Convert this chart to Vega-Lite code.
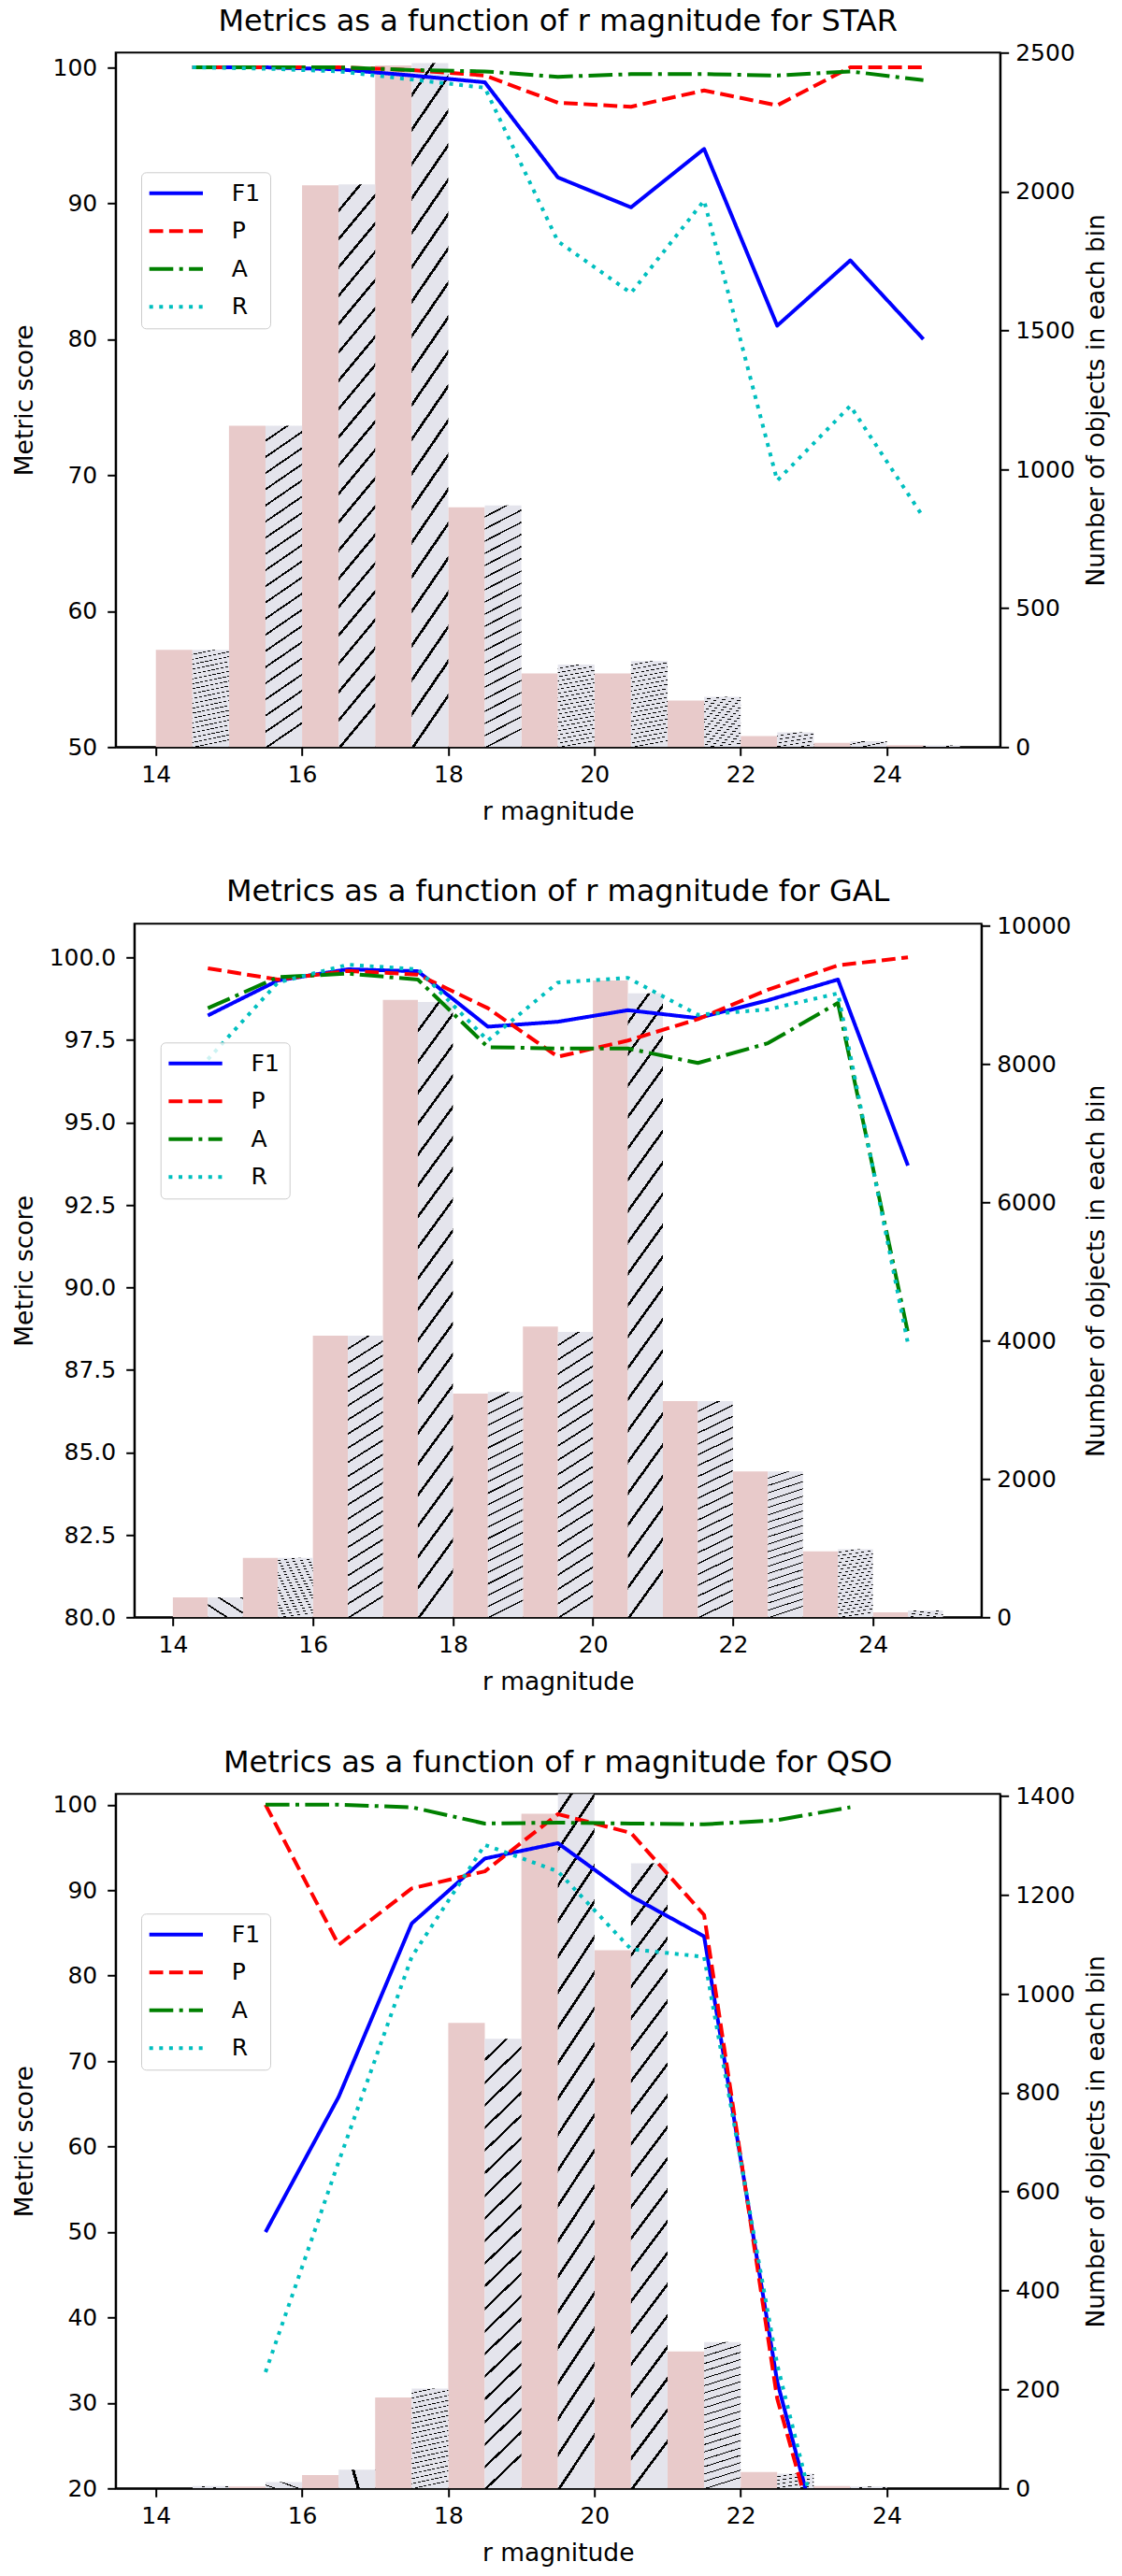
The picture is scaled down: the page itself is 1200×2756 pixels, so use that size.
{
  "$schema": "https://vega.github.io/schema/vega-lite/v6.json",
  "background": "white",
  "padding": {"left": 11.7, "top": 6.3, "right": 10, "bottom": 10},
  "bounds": "flush",
  "center": true,
  "spacing": 189,
  "config": {
    "font": "DejaVu Sans",
    "view": {"stroke": "black", "strokeWidth": 2},
    "axis": {
      "grid": false,
      "domainColor": "black",
      "domainWidth": 2,
      "tickColor": "black",
      "tickWidth": 2,
      "tickSize": 9,
      "labelFont": "DejaVu Sans",
      "labelFontSize": 25,
      "labelColor": "black",
      "labelFlush": false,
      "labelOverlap": false,
      "titleFont": "DejaVu Sans",
      "titleFontSize": 26.5,
      "titleFontWeight": "normal",
      "titleColor": "black"
    },
    "title": {
      "font": "DejaVu Sans",
      "fontSize": 32,
      "fontWeight": "normal",
      "color": "black",
      "anchor": "middle",
      "frame": "group",
      "baseline": "alphabetic"
    },
    "legend": {
      "labelFont": "DejaVu Sans",
      "labelFontSize": 25,
      "labelColor": "black",
      "symbolSize": 400,
      "symbolStrokeWidth": 4,
      "symbolOffset": 14.85,
      "labelOffset": 47,
      "padding": 10,
      "rowPadding": 14.5,
      "fillColor": "rgba(255,255,255,0.8)",
      "strokeColor": "#cccccc",
      "cornerRadius": 5
    }
  },
  "datasets": {
    "bars_star": [
      {"lo": 14, "mid": 14.5, "hi": 15, "a": 350, "b": 350},
      {"lo": 15, "mid": 15.5, "hi": 16, "a": 1157, "b": 1157},
      {"lo": 16, "mid": 16.5, "hi": 17, "a": 2022, "b": 2026},
      {"lo": 17, "mid": 17.5, "hi": 18, "a": 2454, "b": 2462},
      {"lo": 18, "mid": 18.5, "hi": 19, "a": 863, "b": 870},
      {"lo": 19, "mid": 19.5, "hi": 20, "a": 265, "b": 297},
      {"lo": 20, "mid": 20.5, "hi": 21, "a": 265, "b": 310},
      {"lo": 21, "mid": 21.5, "hi": 22, "a": 168, "b": 181},
      {"lo": 22, "mid": 22.5, "hi": 23, "a": 40, "b": 53},
      {"lo": 23, "mid": 23.5, "hi": 24, "a": 15, "b": 21},
      {"lo": 24, "mid": 24.5, "hi": 25, "a": 7, "b": 6}
    ],
    "lines_star": [
      {"m": 14.5, "metric": "F1", "score": 100}, {"m": 15.5, "metric": "F1", "score": 100}, {"m": 16.5, "metric": "F1", "score": 99.85}, {"m": 17.5, "metric": "F1", "score": 99.4}, {"m": 18.5, "metric": "F1", "score": 98.9}, {"m": 19.5, "metric": "F1", "score": 91.9}, {"m": 20.5, "metric": "F1", "score": 89.7}, {"m": 21.5, "metric": "F1", "score": 94.0}, {"m": 22.5, "metric": "F1", "score": 81.0}, {"m": 23.5, "metric": "F1", "score": 85.8}, {"m": 24.5, "metric": "F1", "score": 80.0},
      {"m": 14.5, "metric": "P", "score": 100}, {"m": 15.5, "metric": "P", "score": 100}, {"m": 16.5, "metric": "P", "score": 100}, {"m": 17.5, "metric": "P", "score": 99.8}, {"m": 18.5, "metric": "P", "score": 99.4}, {"m": 19.5, "metric": "P", "score": 97.4}, {"m": 20.5, "metric": "P", "score": 97.1}, {"m": 21.5, "metric": "P", "score": 98.3}, {"m": 22.5, "metric": "P", "score": 97.2}, {"m": 23.5, "metric": "P", "score": 100}, {"m": 24.5, "metric": "P", "score": 100},
      {"m": 14.5, "metric": "A", "score": 100}, {"m": 15.5, "metric": "A", "score": 100}, {"m": 16.5, "metric": "A", "score": 100}, {"m": 17.5, "metric": "A", "score": 99.8}, {"m": 18.5, "metric": "A", "score": 99.7}, {"m": 19.5, "metric": "A", "score": 99.3}, {"m": 20.5, "metric": "A", "score": 99.5}, {"m": 21.5, "metric": "A", "score": 99.5}, {"m": 22.5, "metric": "A", "score": 99.4}, {"m": 23.5, "metric": "A", "score": 99.7}, {"m": 24.5, "metric": "A", "score": 99.05},
      {"m": 14.5, "metric": "R", "score": 100}, {"m": 15.5, "metric": "R", "score": 99.9}, {"m": 16.5, "metric": "R", "score": 99.7}, {"m": 17.5, "metric": "R", "score": 99.1}, {"m": 18.5, "metric": "R", "score": 98.5}, {"m": 19.5, "metric": "R", "score": 87.2}, {"m": 20.5, "metric": "R", "score": 83.4}, {"m": 21.5, "metric": "R", "score": 90.2}, {"m": 22.5, "metric": "R", "score": 69.6}, {"m": 23.5, "metric": "R", "score": 75.1}, {"m": 24.5, "metric": "R", "score": 66.9}
    ],
    "bars_gal": [
      {"lo": 14, "mid": 14.5, "hi": 15, "a": 287, "b": 287},
      {"lo": 15, "mid": 15.5, "hi": 16, "a": 860, "b": 860},
      {"lo": 16, "mid": 16.5, "hi": 17, "a": 4070, "b": 4070},
      {"lo": 17, "mid": 17.5, "hi": 18, "a": 8922, "b": 8891},
      {"lo": 18, "mid": 18.5, "hi": 19, "a": 3233, "b": 3256},
      {"lo": 19, "mid": 19.5, "hi": 20, "a": 4202, "b": 4124},
      {"lo": 20, "mid": 20.5, "hi": 21, "a": 9202, "b": 9016},
      {"lo": 21, "mid": 21.5, "hi": 22, "a": 3124, "b": 3124},
      {"lo": 22, "mid": 22.5, "hi": 23, "a": 2109, "b": 2109},
      {"lo": 23, "mid": 23.5, "hi": 24, "a": 953, "b": 984},
      {"lo": 24, "mid": 24.5, "hi": 25, "a": 70, "b": 100}
    ],
    "lines_gal": [
      {"m": 14.5, "metric": "F1", "score": 98.24}, {"m": 15.5, "metric": "F1", "score": 99.3}, {"m": 16.5, "metric": "F1", "score": 99.64}, {"m": 17.5, "metric": "F1", "score": 99.58}, {"m": 18.5, "metric": "F1", "score": 97.9}, {"m": 19.5, "metric": "F1", "score": 98.05}, {"m": 20.5, "metric": "F1", "score": 98.4}, {"m": 21.5, "metric": "F1", "score": 98.16}, {"m": 22.5, "metric": "F1", "score": 98.7}, {"m": 23.5, "metric": "F1", "score": 99.33}, {"m": 24.5, "metric": "F1", "score": 93.69},
      {"m": 14.5, "metric": "P", "score": 99.67}, {"m": 15.5, "metric": "P", "score": 99.33}, {"m": 16.5, "metric": "P", "score": 99.59}, {"m": 17.5, "metric": "P", "score": 99.48}, {"m": 18.5, "metric": "P", "score": 98.46}, {"m": 19.5, "metric": "P", "score": 96.99}, {"m": 20.5, "metric": "P", "score": 97.48}, {"m": 21.5, "metric": "P", "score": 98.13}, {"m": 22.5, "metric": "P", "score": 99.02}, {"m": 23.5, "metric": "P", "score": 99.76}, {"m": 24.5, "metric": "P", "score": 100.0},
      {"m": 14.5, "metric": "A", "score": 98.46}, {"m": 15.5, "metric": "A", "score": 99.4}, {"m": 16.5, "metric": "A", "score": 99.51}, {"m": 17.5, "metric": "A", "score": 99.33}, {"m": 18.5, "metric": "A", "score": 97.28}, {"m": 19.5, "metric": "A", "score": 97.24}, {"m": 20.5, "metric": "A", "score": 97.24}, {"m": 21.5, "metric": "A", "score": 96.8}, {"m": 22.5, "metric": "A", "score": 97.4}, {"m": 23.5, "metric": "A", "score": 98.62}, {"m": 24.5, "metric": "A", "score": 88.62},
      {"m": 14.5, "metric": "R", "score": 96.91}, {"m": 15.5, "metric": "R", "score": 99.24}, {"m": 16.5, "metric": "R", "score": 99.78}, {"m": 17.5, "metric": "R", "score": 99.64}, {"m": 18.5, "metric": "R", "score": 97.48}, {"m": 19.5, "metric": "R", "score": 99.24}, {"m": 20.5, "metric": "R", "score": 99.38}, {"m": 21.5, "metric": "R", "score": 98.26}, {"m": 22.5, "metric": "R", "score": 98.42}, {"m": 23.5, "metric": "R", "score": 98.91}, {"m": 24.5, "metric": "R", "score": 88.29}
    ],
    "bars_qso": [
      {"lo": 14, "mid": 14.5, "hi": 15, "a": 0, "b": 5},
      {"lo": 15, "mid": 15.5, "hi": 16, "a": 4, "b": 13},
      {"lo": 16, "mid": 16.5, "hi": 17, "a": 27, "b": 38},
      {"lo": 17, "mid": 17.5, "hi": 18, "a": 184, "b": 202},
      {"lo": 18, "mid": 18.5, "hi": 19, "a": 941, "b": 909},
      {"lo": 19, "mid": 19.5, "hi": 20, "a": 1364, "b": 1430},
      {"lo": 20, "mid": 20.5, "hi": 21, "a": 1088, "b": 1264},
      {"lo": 21, "mid": 21.5, "hi": 22, "a": 277, "b": 296},
      {"lo": 22, "mid": 22.5, "hi": 23, "a": 33, "b": 30},
      {"lo": 23, "mid": 23.5, "hi": 24, "a": 5, "b": 4},
      {"lo": 24, "mid": 24.5, "hi": 25, "a": 0, "b": 0}
    ],
    "lines_qso": [
      {"m": 15.5, "metric": "F1", "score": 50.0}, {"m": 16.5, "metric": "F1", "score": 65.8}, {"m": 17.5, "metric": "F1", "score": 86.1}, {"m": 18.5, "metric": "F1", "score": 93.7}, {"m": 19.5, "metric": "F1", "score": 95.5}, {"m": 20.5, "metric": "F1", "score": 89.3}, {"m": 21.5, "metric": "F1", "score": 84.6}, {"m": 22.5, "metric": "F1", "score": 32.5}, {"m": 23.5, "metric": "F1", "score": 0},
      {"m": 15.5, "metric": "P", "score": 100}, {"m": 16.5, "metric": "P", "score": 83.6}, {"m": 17.5, "metric": "P", "score": 90.2}, {"m": 18.5, "metric": "P", "score": 92.2}, {"m": 19.5, "metric": "P", "score": 98.9}, {"m": 20.5, "metric": "P", "score": 96.7}, {"m": 21.5, "metric": "P", "score": 87.1}, {"m": 22.5, "metric": "P", "score": 30.5}, {"m": 23.5, "metric": "P", "score": 0},
      {"m": 15.5, "metric": "A", "score": 100}, {"m": 16.5, "metric": "A", "score": 100}, {"m": 17.5, "metric": "A", "score": 99.7}, {"m": 18.5, "metric": "A", "score": 97.8}, {"m": 19.5, "metric": "A", "score": 97.9}, {"m": 20.5, "metric": "A", "score": 97.8}, {"m": 21.5, "metric": "A", "score": 97.7}, {"m": 22.5, "metric": "A", "score": 98.2}, {"m": 23.5, "metric": "A", "score": 99.7},
      {"m": 15.5, "metric": "R", "score": 33.6}, {"m": 16.5, "metric": "R", "score": 58.2}, {"m": 17.5, "metric": "R", "score": 82.2}, {"m": 18.5, "metric": "R", "score": 95.3}, {"m": 19.5, "metric": "R", "score": 92.2}, {"m": 20.5, "metric": "R", "score": 83.1}, {"m": 21.5, "metric": "R", "score": 82.2}, {"m": 22.5, "metric": "R", "score": 34.5}, {"m": 23.5, "metric": "R", "score": 0}
    ]
  },
  "vconcat": [
    {
      "width": 946,
      "height": 743,
      "title": {"text": "Metrics as a function of r magnitude for STAR", "offset": 4},
      "layer": [
        {
          "data": {"name": "bars_star"},
          "layer": [
            {
              "mark": {"type": "bar", "fill": "#e8caca", "clip": true},
              "encoding": {
                "x": {"field": "lo", "type": "quantitative", "title": "r magnitude", "scale": {"domain": [13.45, 25.55], "nice": false, "zero": false}, "axis": {"values": [14, 16, 18, 20, 22, 24], "format": "d", "labelPadding": 8, "titlePadding": 14}},
                "x2": {"field": "mid"},
                "y": {"field": "a", "type": "quantitative", "stack": null, "title": "Number of objects in each bin", "scale": {"domain": [0, 2500], "nice": false}, "axis": {"orient": "right", "values": [0, 500, 1000, 1500, 2000, 2500], "format": "d", "labelPadding": 7, "titlePadding": 10, "titleAngle": 270, "titleBaseline": "top", "titleAlign": "center"}},
                "y2": {"datum": 0}
              }
            },
            {
              "mark": {"type": "bar", "clip": true, "fill": {"gradient": "linear", "x1": 0, "y1": 0, "x2": 0.078, "y2": 1, "stops": [
                {"offset": 0, "color": "#e4e4ec"},
                {"offset": 0.0435, "color": "#e4e4ec"}, {"offset": 0.0435, "color": "#000000"}, {"offset": 0.05, "color": "#000000"}, {"offset": 0.05, "color": "#e4e4ec"},
                {"offset": 0.0935, "color": "#e4e4ec"}, {"offset": 0.0935, "color": "#000000"}, {"offset": 0.10, "color": "#000000"}, {"offset": 0.10, "color": "#e4e4ec"},
                {"offset": 0.1435, "color": "#e4e4ec"}, {"offset": 0.1435, "color": "#000000"}, {"offset": 0.15, "color": "#000000"}, {"offset": 0.15, "color": "#e4e4ec"},
                {"offset": 0.1935, "color": "#e4e4ec"}, {"offset": 0.1935, "color": "#000000"}, {"offset": 0.20, "color": "#000000"}, {"offset": 0.20, "color": "#e4e4ec"},
                {"offset": 0.2435, "color": "#e4e4ec"}, {"offset": 0.2435, "color": "#000000"}, {"offset": 0.25, "color": "#000000"}, {"offset": 0.25, "color": "#e4e4ec"},
                {"offset": 0.2935, "color": "#e4e4ec"}, {"offset": 0.2935, "color": "#000000"}, {"offset": 0.30, "color": "#000000"}, {"offset": 0.30, "color": "#e4e4ec"},
                {"offset": 0.3435, "color": "#e4e4ec"}, {"offset": 0.3435, "color": "#000000"}, {"offset": 0.35, "color": "#000000"}, {"offset": 0.35, "color": "#e4e4ec"},
                {"offset": 0.3935, "color": "#e4e4ec"}, {"offset": 0.3935, "color": "#000000"}, {"offset": 0.40, "color": "#000000"}, {"offset": 0.40, "color": "#e4e4ec"},
                {"offset": 0.4435, "color": "#e4e4ec"}, {"offset": 0.4435, "color": "#000000"}, {"offset": 0.45, "color": "#000000"}, {"offset": 0.45, "color": "#e4e4ec"},
                {"offset": 0.4935, "color": "#e4e4ec"}, {"offset": 0.4935, "color": "#000000"}, {"offset": 0.50, "color": "#000000"}, {"offset": 0.50, "color": "#e4e4ec"},
                {"offset": 0.5435, "color": "#e4e4ec"}, {"offset": 0.5435, "color": "#000000"}, {"offset": 0.55, "color": "#000000"}, {"offset": 0.55, "color": "#e4e4ec"},
                {"offset": 0.5935, "color": "#e4e4ec"}, {"offset": 0.5935, "color": "#000000"}, {"offset": 0.60, "color": "#000000"}, {"offset": 0.60, "color": "#e4e4ec"},
                {"offset": 0.6435, "color": "#e4e4ec"}, {"offset": 0.6435, "color": "#000000"}, {"offset": 0.65, "color": "#000000"}, {"offset": 0.65, "color": "#e4e4ec"},
                {"offset": 0.6935, "color": "#e4e4ec"}, {"offset": 0.6935, "color": "#000000"}, {"offset": 0.70, "color": "#000000"}, {"offset": 0.70, "color": "#e4e4ec"},
                {"offset": 0.7435, "color": "#e4e4ec"}, {"offset": 0.7435, "color": "#000000"}, {"offset": 0.75, "color": "#000000"}, {"offset": 0.75, "color": "#e4e4ec"},
                {"offset": 0.7935, "color": "#e4e4ec"}, {"offset": 0.7935, "color": "#000000"}, {"offset": 0.80, "color": "#000000"}, {"offset": 0.80, "color": "#e4e4ec"},
                {"offset": 0.8435, "color": "#e4e4ec"}, {"offset": 0.8435, "color": "#000000"}, {"offset": 0.85, "color": "#000000"}, {"offset": 0.85, "color": "#e4e4ec"},
                {"offset": 0.8935, "color": "#e4e4ec"}, {"offset": 0.8935, "color": "#000000"}, {"offset": 0.90, "color": "#000000"}, {"offset": 0.90, "color": "#e4e4ec"},
                {"offset": 0.9435, "color": "#e4e4ec"}, {"offset": 0.9435, "color": "#000000"}, {"offset": 0.95, "color": "#000000"}, {"offset": 0.95, "color": "#e4e4ec"},
                {"offset": 0.9935, "color": "#e4e4ec"}, {"offset": 0.9935, "color": "#000000"}, {"offset": 1, "color": "#000000"}, {"offset": 1, "color": "#e4e4ec"}
              ]}},
              "encoding": {
                "x": {"field": "mid", "type": "quantitative", "title": "r magnitude", "scale": {"domain": [13.45, 25.55], "nice": false, "zero": false}, "axis": {"values": [14, 16, 18, 20, 22, 24], "format": "d", "labelPadding": 8, "titlePadding": 14}},
                "x2": {"field": "hi"},
                "y": {"field": "b", "type": "quantitative", "stack": null, "title": "Number of objects in each bin", "scale": {"domain": [0, 2500], "nice": false}, "axis": {"orient": "right", "values": [0, 500, 1000, 1500, 2000, 2500], "format": "d", "labelPadding": 7, "titlePadding": 10, "titleAngle": 270, "titleBaseline": "top", "titleAlign": "center"}},
                "y2": {"datum": 0}
              }
            }
          ]
        },
        {
          "data": {"name": "lines_star"},
          "mark": {"type": "line", "strokeWidth": 4, "strokeCap": "butt", "strokeJoin": "round", "clip": true},
          "encoding": {
            "x": {"field": "m", "type": "quantitative", "title": "r magnitude", "scale": {"domain": [13.45, 25.55], "nice": false, "zero": false}, "axis": {"values": [14, 16, 18, 20, 22, 24], "format": "d", "labelPadding": 8, "titlePadding": 14}},
            "y": {"field": "score", "type": "quantitative", "title": "Metric score", "scale": {"domain": [50, 101.08], "nice": false, "zero": false}, "axis": {"orient": "left", "values": [50, 60, 70, 80, 90, 100], "format": "d", "labelPadding": 11, "titlePadding": 15}},
            "color": {"field": "metric", "type": "nominal", "scale": {"domain": ["F1", "P", "A", "R"], "range": ["#0000ff", "#ff0000", "#008000", "#00bfbf"]}, "legend": {"orient": "none", "legendX": 27.3, "legendY": 128, "title": null, "symbolType": "M-2.865,0H2.865"}},
            "strokeDash": {"field": "metric", "type": "nominal", "scale": {"domain": ["F1", "P", "A", "R"], "range": [[1, 0], [14.8, 6.4], [25.6, 6.4, 4, 6.4], [4, 6.6]]}, "legend": {"orient": "none", "legendX": 27.3, "legendY": 128, "title": null, "symbolType": "M-2.865,0H2.865"}}
          }
        }
      ],
      "resolve": {"scale": {"y": "independent"}}
    },
    {
      "width": 906,
      "height": 742,
      "title": {"text": "Metrics as a function of r magnitude for GAL", "offset": 7},
      "layer": [
        {
          "data": {"name": "bars_gal"},
          "layer": [
            {
              "mark": {"type": "bar", "fill": "#e8caca", "clip": true},
              "encoding": {
                "x": {"field": "lo", "type": "quantitative", "title": "r magnitude", "scale": {"domain": [13.45, 25.55], "nice": false, "zero": false}, "axis": {"values": [14, 16, 18, 20, 22, 24], "format": "d", "labelPadding": 8, "titlePadding": 14}},
                "x2": {"field": "mid"},
                "y": {"field": "a", "type": "quantitative", "stack": null, "title": "Number of objects in each bin", "scale": {"domain": [0, 10023], "nice": false}, "axis": {"orient": "right", "values": [0, 2000, 4000, 6000, 8000, 10000], "format": "d", "labelPadding": 7, "titlePadding": 14, "titleAngle": 270, "titleBaseline": "top", "titleAlign": "center"}},
                "y2": {"datum": 0}
              }
            },
            {
              "mark": {"type": "bar", "clip": true, "fill": {"gradient": "linear", "x1": 0, "y1": 0, "x2": 0.078, "y2": 1, "stops": [
                {"offset": 0, "color": "#e4e4ec"},
                {"offset": 0.0435, "color": "#e4e4ec"}, {"offset": 0.0435, "color": "#000000"}, {"offset": 0.05, "color": "#000000"}, {"offset": 0.05, "color": "#e4e4ec"},
                {"offset": 0.0935, "color": "#e4e4ec"}, {"offset": 0.0935, "color": "#000000"}, {"offset": 0.10, "color": "#000000"}, {"offset": 0.10, "color": "#e4e4ec"},
                {"offset": 0.1435, "color": "#e4e4ec"}, {"offset": 0.1435, "color": "#000000"}, {"offset": 0.15, "color": "#000000"}, {"offset": 0.15, "color": "#e4e4ec"},
                {"offset": 0.1935, "color": "#e4e4ec"}, {"offset": 0.1935, "color": "#000000"}, {"offset": 0.20, "color": "#000000"}, {"offset": 0.20, "color": "#e4e4ec"},
                {"offset": 0.2435, "color": "#e4e4ec"}, {"offset": 0.2435, "color": "#000000"}, {"offset": 0.25, "color": "#000000"}, {"offset": 0.25, "color": "#e4e4ec"},
                {"offset": 0.2935, "color": "#e4e4ec"}, {"offset": 0.2935, "color": "#000000"}, {"offset": 0.30, "color": "#000000"}, {"offset": 0.30, "color": "#e4e4ec"},
                {"offset": 0.3435, "color": "#e4e4ec"}, {"offset": 0.3435, "color": "#000000"}, {"offset": 0.35, "color": "#000000"}, {"offset": 0.35, "color": "#e4e4ec"},
                {"offset": 0.3935, "color": "#e4e4ec"}, {"offset": 0.3935, "color": "#000000"}, {"offset": 0.40, "color": "#000000"}, {"offset": 0.40, "color": "#e4e4ec"},
                {"offset": 0.4435, "color": "#e4e4ec"}, {"offset": 0.4435, "color": "#000000"}, {"offset": 0.45, "color": "#000000"}, {"offset": 0.45, "color": "#e4e4ec"},
                {"offset": 0.4935, "color": "#e4e4ec"}, {"offset": 0.4935, "color": "#000000"}, {"offset": 0.50, "color": "#000000"}, {"offset": 0.50, "color": "#e4e4ec"},
                {"offset": 0.5435, "color": "#e4e4ec"}, {"offset": 0.5435, "color": "#000000"}, {"offset": 0.55, "color": "#000000"}, {"offset": 0.55, "color": "#e4e4ec"},
                {"offset": 0.5935, "color": "#e4e4ec"}, {"offset": 0.5935, "color": "#000000"}, {"offset": 0.60, "color": "#000000"}, {"offset": 0.60, "color": "#e4e4ec"},
                {"offset": 0.6435, "color": "#e4e4ec"}, {"offset": 0.6435, "color": "#000000"}, {"offset": 0.65, "color": "#000000"}, {"offset": 0.65, "color": "#e4e4ec"},
                {"offset": 0.6935, "color": "#e4e4ec"}, {"offset": 0.6935, "color": "#000000"}, {"offset": 0.70, "color": "#000000"}, {"offset": 0.70, "color": "#e4e4ec"},
                {"offset": 0.7435, "color": "#e4e4ec"}, {"offset": 0.7435, "color": "#000000"}, {"offset": 0.75, "color": "#000000"}, {"offset": 0.75, "color": "#e4e4ec"},
                {"offset": 0.7935, "color": "#e4e4ec"}, {"offset": 0.7935, "color": "#000000"}, {"offset": 0.80, "color": "#000000"}, {"offset": 0.80, "color": "#e4e4ec"},
                {"offset": 0.8435, "color": "#e4e4ec"}, {"offset": 0.8435, "color": "#000000"}, {"offset": 0.85, "color": "#000000"}, {"offset": 0.85, "color": "#e4e4ec"},
                {"offset": 0.8935, "color": "#e4e4ec"}, {"offset": 0.8935, "color": "#000000"}, {"offset": 0.90, "color": "#000000"}, {"offset": 0.90, "color": "#e4e4ec"},
                {"offset": 0.9435, "color": "#e4e4ec"}, {"offset": 0.9435, "color": "#000000"}, {"offset": 0.95, "color": "#000000"}, {"offset": 0.95, "color": "#e4e4ec"},
                {"offset": 0.9935, "color": "#e4e4ec"}, {"offset": 0.9935, "color": "#000000"}, {"offset": 1, "color": "#000000"}, {"offset": 1, "color": "#e4e4ec"}
              ]}},
              "encoding": {
                "x": {"field": "mid", "type": "quantitative", "title": "r magnitude", "scale": {"domain": [13.45, 25.55], "nice": false, "zero": false}, "axis": {"values": [14, 16, 18, 20, 22, 24], "format": "d", "labelPadding": 8, "titlePadding": 14}},
                "x2": {"field": "hi"},
                "y": {"field": "b", "type": "quantitative", "stack": null, "title": "Number of objects in each bin", "scale": {"domain": [0, 10023], "nice": false}, "axis": {"orient": "right", "values": [0, 2000, 4000, 6000, 8000, 10000], "format": "d", "labelPadding": 7, "titlePadding": 14, "titleAngle": 270, "titleBaseline": "top", "titleAlign": "center"}},
                "y2": {"datum": 0}
              }
            }
          ]
        },
        {
          "data": {"name": "lines_gal"},
          "mark": {"type": "line", "strokeWidth": 4, "strokeCap": "butt", "strokeJoin": "round", "clip": true},
          "encoding": {
            "x": {"field": "m", "type": "quantitative", "title": "r magnitude", "scale": {"domain": [13.45, 25.55], "nice": false, "zero": false}, "axis": {"values": [14, 16, 18, 20, 22, 24], "format": "d", "labelPadding": 8, "titlePadding": 14}},
            "y": {"field": "score", "type": "quantitative", "title": "Metric score", "scale": {"domain": [80, 101.02], "nice": false, "zero": false}, "axis": {"orient": "left", "values": [80, 82.5, 85, 87.5, 90, 92.5, 95, 97.5, 100], "format": ".1f", "labelPadding": 11, "titlePadding": 11.5}},
            "color": {"field": "metric", "type": "nominal", "scale": {"domain": ["F1", "P", "A", "R"], "range": ["#0000ff", "#ff0000", "#008000", "#00bfbf"]}, "legend": {"orient": "none", "legendX": 28, "legendY": 127, "title": null, "symbolType": "M-2.865,0H2.865"}},
            "strokeDash": {"field": "metric", "type": "nominal", "scale": {"domain": ["F1", "P", "A", "R"], "range": [[1, 0], [14.8, 6.4], [25.6, 6.4, 4, 6.4], [4, 6.6]]}, "legend": {"orient": "none", "legendX": 28, "legendY": 127, "title": null, "symbolType": "M-2.865,0H2.865"}}
          }
        }
      ],
      "resolve": {"scale": {"y": "independent"}}
    },
    {
      "width": 946,
      "height": 743,
      "title": {"text": "Metrics as a function of r magnitude for QSO", "offset": 6},
      "layer": [
        {
          "data": {"name": "bars_qso"},
          "layer": [
            {
              "mark": {"type": "bar", "fill": "#e8caca", "clip": true},
              "encoding": {
                "x": {"field": "lo", "type": "quantitative", "title": "r magnitude", "scale": {"domain": [13.45, 25.55], "nice": false, "zero": false}, "axis": {"values": [14, 16, 18, 20, 22, 24], "format": "d", "labelPadding": 8, "titlePadding": 14}},
                "x2": {"field": "mid"},
                "y": {"field": "a", "type": "quantitative", "stack": null, "title": "Number of objects in each bin", "scale": {"domain": [0, 1404], "nice": false}, "axis": {"orient": "right", "values": [0, 200, 400, 600, 800, 1000, 1200, 1400], "format": "d", "labelPadding": 7, "titlePadding": 10, "titleAngle": 270, "titleBaseline": "top", "titleAlign": "center"}},
                "y2": {"datum": 0}
              }
            },
            {
              "mark": {"type": "bar", "clip": true, "fill": {"gradient": "linear", "x1": 0, "y1": 0, "x2": 0.078, "y2": 1, "stops": [
                {"offset": 0, "color": "#e4e4ec"},
                {"offset": 0.0435, "color": "#e4e4ec"}, {"offset": 0.0435, "color": "#000000"}, {"offset": 0.05, "color": "#000000"}, {"offset": 0.05, "color": "#e4e4ec"},
                {"offset": 0.0935, "color": "#e4e4ec"}, {"offset": 0.0935, "color": "#000000"}, {"offset": 0.10, "color": "#000000"}, {"offset": 0.10, "color": "#e4e4ec"},
                {"offset": 0.1435, "color": "#e4e4ec"}, {"offset": 0.1435, "color": "#000000"}, {"offset": 0.15, "color": "#000000"}, {"offset": 0.15, "color": "#e4e4ec"},
                {"offset": 0.1935, "color": "#e4e4ec"}, {"offset": 0.1935, "color": "#000000"}, {"offset": 0.20, "color": "#000000"}, {"offset": 0.20, "color": "#e4e4ec"},
                {"offset": 0.2435, "color": "#e4e4ec"}, {"offset": 0.2435, "color": "#000000"}, {"offset": 0.25, "color": "#000000"}, {"offset": 0.25, "color": "#e4e4ec"},
                {"offset": 0.2935, "color": "#e4e4ec"}, {"offset": 0.2935, "color": "#000000"}, {"offset": 0.30, "color": "#000000"}, {"offset": 0.30, "color": "#e4e4ec"},
                {"offset": 0.3435, "color": "#e4e4ec"}, {"offset": 0.3435, "color": "#000000"}, {"offset": 0.35, "color": "#000000"}, {"offset": 0.35, "color": "#e4e4ec"},
                {"offset": 0.3935, "color": "#e4e4ec"}, {"offset": 0.3935, "color": "#000000"}, {"offset": 0.40, "color": "#000000"}, {"offset": 0.40, "color": "#e4e4ec"},
                {"offset": 0.4435, "color": "#e4e4ec"}, {"offset": 0.4435, "color": "#000000"}, {"offset": 0.45, "color": "#000000"}, {"offset": 0.45, "color": "#e4e4ec"},
                {"offset": 0.4935, "color": "#e4e4ec"}, {"offset": 0.4935, "color": "#000000"}, {"offset": 0.50, "color": "#000000"}, {"offset": 0.50, "color": "#e4e4ec"},
                {"offset": 0.5435, "color": "#e4e4ec"}, {"offset": 0.5435, "color": "#000000"}, {"offset": 0.55, "color": "#000000"}, {"offset": 0.55, "color": "#e4e4ec"},
                {"offset": 0.5935, "color": "#e4e4ec"}, {"offset": 0.5935, "color": "#000000"}, {"offset": 0.60, "color": "#000000"}, {"offset": 0.60, "color": "#e4e4ec"},
                {"offset": 0.6435, "color": "#e4e4ec"}, {"offset": 0.6435, "color": "#000000"}, {"offset": 0.65, "color": "#000000"}, {"offset": 0.65, "color": "#e4e4ec"},
                {"offset": 0.6935, "color": "#e4e4ec"}, {"offset": 0.6935, "color": "#000000"}, {"offset": 0.70, "color": "#000000"}, {"offset": 0.70, "color": "#e4e4ec"},
                {"offset": 0.7435, "color": "#e4e4ec"}, {"offset": 0.7435, "color": "#000000"}, {"offset": 0.75, "color": "#000000"}, {"offset": 0.75, "color": "#e4e4ec"},
                {"offset": 0.7935, "color": "#e4e4ec"}, {"offset": 0.7935, "color": "#000000"}, {"offset": 0.80, "color": "#000000"}, {"offset": 0.80, "color": "#e4e4ec"},
                {"offset": 0.8435, "color": "#e4e4ec"}, {"offset": 0.8435, "color": "#000000"}, {"offset": 0.85, "color": "#000000"}, {"offset": 0.85, "color": "#e4e4ec"},
                {"offset": 0.8935, "color": "#e4e4ec"}, {"offset": 0.8935, "color": "#000000"}, {"offset": 0.90, "color": "#000000"}, {"offset": 0.90, "color": "#e4e4ec"},
                {"offset": 0.9435, "color": "#e4e4ec"}, {"offset": 0.9435, "color": "#000000"}, {"offset": 0.95, "color": "#000000"}, {"offset": 0.95, "color": "#e4e4ec"},
                {"offset": 0.9935, "color": "#e4e4ec"}, {"offset": 0.9935, "color": "#000000"}, {"offset": 1, "color": "#000000"}, {"offset": 1, "color": "#e4e4ec"}
              ]}},
              "encoding": {
                "x": {"field": "mid", "type": "quantitative", "title": "r magnitude", "scale": {"domain": [13.45, 25.55], "nice": false, "zero": false}, "axis": {"values": [14, 16, 18, 20, 22, 24], "format": "d", "labelPadding": 8, "titlePadding": 14}},
                "x2": {"field": "hi"},
                "y": {"field": "b", "type": "quantitative", "stack": null, "title": "Number of objects in each bin", "scale": {"domain": [0, 1404], "nice": false}, "axis": {"orient": "right", "values": [0, 200, 400, 600, 800, 1000, 1200, 1400], "format": "d", "labelPadding": 7, "titlePadding": 10, "titleAngle": 270, "titleBaseline": "top", "titleAlign": "center"}},
                "y2": {"datum": 0}
              }
            }
          ]
        },
        {
          "data": {"name": "lines_qso"},
          "mark": {"type": "line", "strokeWidth": 4, "strokeCap": "butt", "strokeJoin": "round", "clip": true},
          "encoding": {
            "x": {"field": "m", "type": "quantitative", "title": "r magnitude", "scale": {"domain": [13.45, 25.55], "nice": false, "zero": false}, "axis": {"values": [14, 16, 18, 20, 22, 24], "format": "d", "labelPadding": 8, "titlePadding": 14}},
            "y": {"field": "score", "type": "quantitative", "title": "Metric score", "scale": {"domain": [20, 101.26], "nice": false, "zero": false}, "axis": {"orient": "left", "values": [20, 30, 40, 50, 60, 70, 80, 90, 100], "format": "d", "labelPadding": 11, "titlePadding": 15}},
            "color": {"field": "metric", "type": "nominal", "scale": {"domain": ["F1", "P", "A", "R"], "range": ["#0000ff", "#ff0000", "#008000", "#00bfbf"]}, "legend": {"orient": "none", "legendX": 27.3, "legendY": 128, "title": null, "symbolType": "M-2.865,0H2.865"}},
            "strokeDash": {"field": "metric", "type": "nominal", "scale": {"domain": ["F1", "P", "A", "R"], "range": [[1, 0], [14.8, 6.4], [25.6, 6.4, 4, 6.4], [4, 6.6]]}, "legend": {"orient": "none", "legendX": 27.3, "legendY": 128, "title": null, "symbolType": "M-2.865,0H2.865"}}
          }
        }
      ],
      "resolve": {"scale": {"y": "independent"}}
    }
  ],
  "resolve": {
    "scale": {"x": "independent", "y": "independent", "color": "independent", "strokeDash": "independent"},
    "legend": {"color": "independent", "strokeDash": "independent"}
  }
}
